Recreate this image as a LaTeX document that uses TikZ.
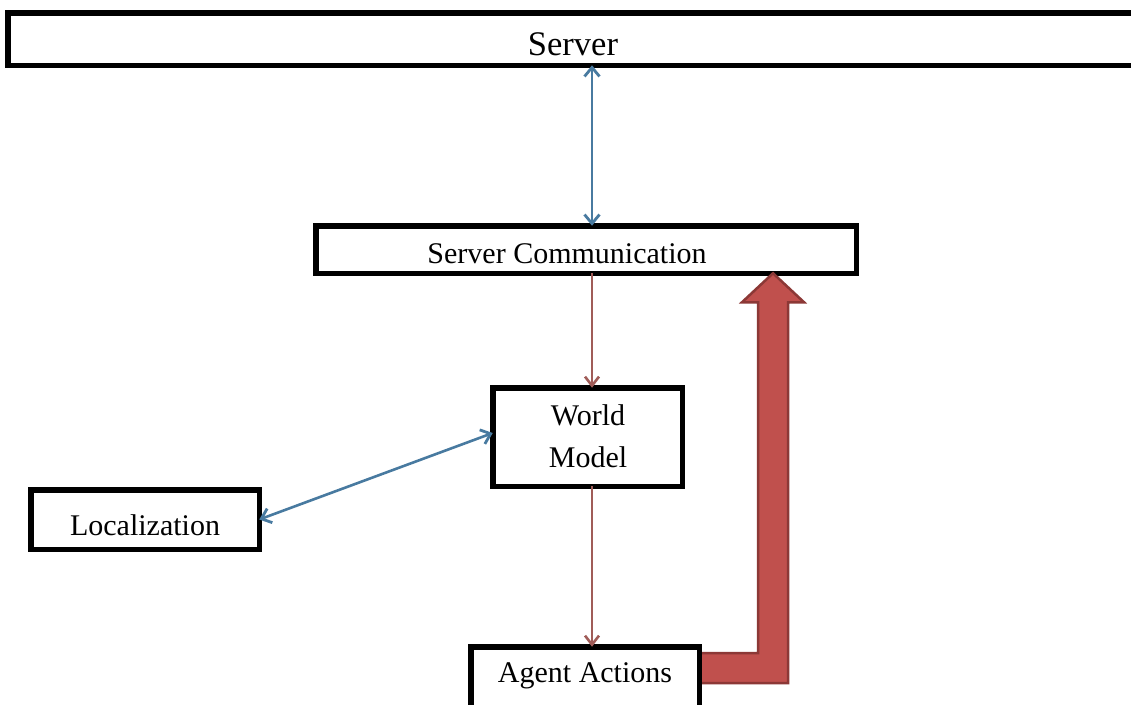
\documentclass[tikz,border=0pt]{standalone}
\usepackage{fontspec}
\setmainfont{Liberation Serif}
\usetikzlibrary{arrows.meta,calc}

\definecolor{linkblue}{RGB}{72,122,160}
\definecolor{linkbrown}{RGB}{160,92,88}
\definecolor{flowred}{RGB}{192,80,77}
\definecolor{flowedge}{RGB}{140,56,54}

\tikzset{
  box/.style={draw=black, fill=white, line width=5.5pt, inner sep=0pt, outer sep=0pt},
  lbl/.style={inner sep=0pt, font=\fontsize{30}{42}\selectfont, anchor=base},
  bilink/.style={draw=linkblue, line width=2.6pt,
    {Straight Barb[length=9pt,width=15pt,line width=2.8pt]}-{Straight Barb[length=9pt,width=15pt,line width=2.8pt]}},
  downlink/.style={draw=linkbrown, line width=2pt,
    -{Straight Barb[length=9pt,width=14pt,line width=2.6pt]}},
  bigarrow/.style={fill=flowred, draw=flowedge, line width=2.5pt, line join=miter}
}

\begin{document}
\begin{tikzpicture}[x=1pt,y=-1pt]
  \useasboundingbox[fill=white] (0,0) rectangle (1131,704);

  % boxes
  \node[box, minimum width=1134.5pt, minimum height=52.5pt] (server) at (575,39) {};
  \node[box, minimum width=540.5pt, minimum height=47.5pt] (sc) at (586,249.5) {};
  \node[box, minimum width=189.5pt, minimum height=98.5pt] (wm) at (587.5,437) {};
  \node[box, minimum width=228.5pt, minimum height=59.5pt] (loc) at (145,519.5) {};
  \node[box, minimum width=228.5pt, minimum height=70.5pt] (aa) at (585,682) {};

  % labels
  \node[lbl, font=\fontsize{34.5}{40}\selectfont] (tserver) at (573,55) {Server};
  \node[lbl] (tsc) at (567,263) {Server Communication};
  \node[lbl, anchor=center, align=center] (twm) at (588,436) {World\\Model};
  \node[lbl] (tloc) at (145,535) {Localization};
  \node[lbl] (taa) at (585,682) {Agent Actions};

  % connectors
  \coordinate (axis) at (592,0);
  \draw[bilink] (axis |- server.south) -- (axis |- sc.north);
  \draw[downlink] (axis |- sc.south) -- (axis |- wm.north);
  \draw[downlink] (axis |- wm.south) -- (axis |- aa.north);
  \draw[bilink] (loc.east) -- ([yshift=4pt]wm.west);

  % thick feedback arrow from Agent Actions up to Server Communication
  \coordinate (bendc) at (773,668);
  \coordinate (tip) at (sc.south -| bendc);
  \filldraw[bigarrow]
    ($(aa.east |- bendc)+(0,-15)$) -- ($(bendc)+(-15,-15)$)
    -- ($(tip)+(-15,29)$) -- ($(tip)+(-31,29)$) -- (tip)
    -- ($(tip)+(31,29)$) -- ($(tip)+(15,29)$)
    -- ($(bendc)+(15,15)$) -- ($(aa.east |- bendc)+(0,15)$) -- cycle;
  \draw[draw=black, line width=5.5pt] (aa.north east) -- (aa.south east);
\end{tikzpicture}
\end{document}
